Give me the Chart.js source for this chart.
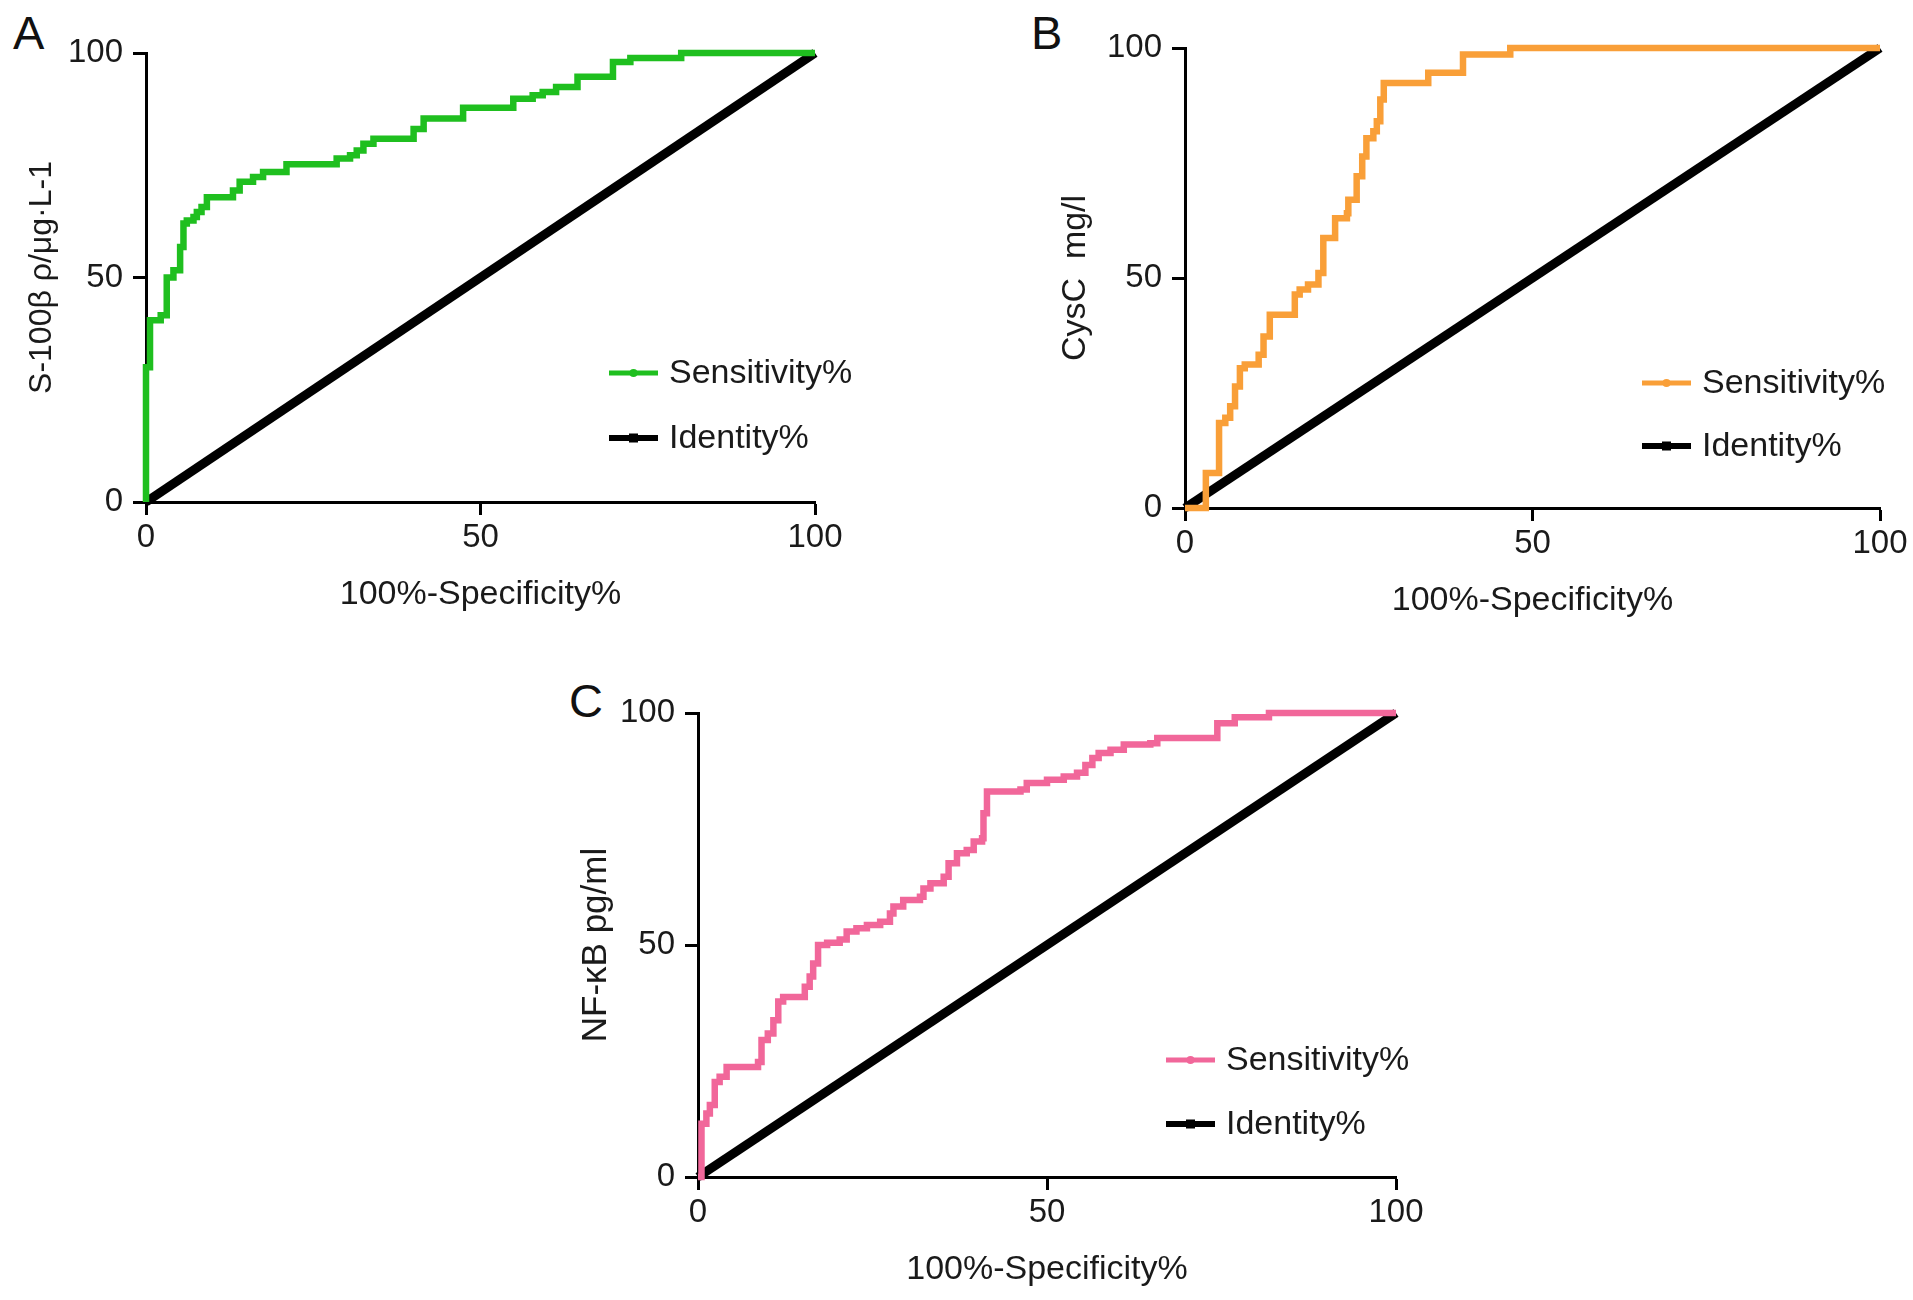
<!DOCTYPE html>
<html>
<head>
<meta charset="utf-8">
<script src="https://cdn.jsdelivr.net/npm/chart.js@4.4.0/dist/chart.umd.min.js"></script>
<style>
html,body{margin:0;padding:0;background:#fff;}
body{width:1913px;height:1300px;position:relative;overflow:hidden;}
.panel{position:absolute;}
.letter{position:absolute;font-family:"Liberation Sans",Arial,Helvetica,sans-serif;font-size:47px;line-height:1;color:#111;}
</style>
</head>
<body>
<div class="letter" style="left:13px;top:9px">A</div>
<div class="letter" style="left:1031px;top:9px">B</div>
<div class="letter" style="left:569px;top:677px">C</div>
<canvas id="cA" class="panel" style="left:0px;top:0px" width="900" height="660"></canvas>
<canvas id="cB" class="panel" style="left:1040px;top:0px" width="873" height="660"></canvas>
<canvas id="cC" class="panel" style="left:560px;top:660px" width="900" height="640"></canvas>
<script>
// ---------- data ----------
const axisTicks = [0, 50, 100];
const xTitle = "100%-Specificity%";
const seriesNames = ["Sensitivity%", "Identity%"];

// Identity (reference) line
const identityX = [0, 100];
const identityY = [0, 100];

// Panel A: S-100β
const aTitle = "S-100β ρ/μg·L-1";
const aFpr  = [0, 0, 0.6, 2.2, 3.1, 4.1, 5.1, 5.6, 6.1, 7.1, 7.6, 8.3, 9.1, 13, 14, 16, 17.5, 21, 28.5, 30.5, 31.5, 32.5, 34, 40, 41.5, 47.4, 54.9, 57.8, 59.3, 61.3, 64.5, 69.8, 72.4, 80, 100];
const aSens = [0, 30, 40.5, 41.6, 50, 51.6, 56.8, 62, 62.7, 63.5, 64.6, 65.7, 67.9, 69.4, 71.3, 72.4, 73.5, 75.2, 76.5, 77.2, 78.3, 79.8, 80.9, 83.1, 85.4, 87.8, 89.8, 90.6, 91.3, 92.4, 94.7, 98, 98.9, 100, 100];

// Panel B: CysC
const bTitle = "CysC  mg/l";
const bFpr  = [0, 3.0, 4.9, 5.8, 6.5, 7.2, 7.9, 8.6, 10.6, 11.3, 12.2, 15.8, 16.5, 17.7, 19.2, 19.9, 21.6, 23.3, 23.5, 24.7, 25.5, 26.1, 27.1, 27.6, 28.1, 28.6, 35, 40, 46.8, 100];
const bSens = [0, 7.6, 18.5, 19.6, 22.1, 26.4, 30.4, 31.2, 33.3, 37.3, 42, 46.4, 47.5, 48.6, 51.1, 58.7, 63, 64.1, 67, 72.1, 76.4, 80.4, 81.9, 84.1, 88.8, 92.4, 94.6, 98.6, 100, 100];

// Panel C: NF-κB
const cTitle = "NF-κB pg/ml";
const cFpr  = [0, 0.5, 1.2, 1.7, 2.4, 3.1, 4.1, 8.6, 9.1, 10, 10.8, 11.5, 12.2, 15.3, 16, 16.5, 17.2, 18.5, 20.3, 21.3, 22.7, 24.2, 26.1, 27.5, 28, 29.4, 31.8, 32.3, 33.3, 35.2, 35.9, 37.1, 38.5, 39.5, 40.7, 40.9, 41.4, 46.2, 47.1, 50, 52.4, 54.3, 55.5, 56.5, 57.4, 59.1, 61, 64.8, 65.8, 74.4, 76.9, 81.8, 100];
const cSens = [0, 11.5, 13.7, 15.5, 20.5, 21.6, 23.7, 24.8, 29.5, 30.9, 33.8, 37.8, 38.8, 41, 43.2, 46, 50, 50.5, 51.2, 52.9, 53.6, 54.3, 55, 56.8, 58.3, 59.7, 60.4, 62.2, 63.3, 64.7, 67.6, 69.8, 70.5, 72.3, 73, 78.4, 83.1, 83.5, 84.9, 85.6, 86.3, 87.1, 88.8, 90.3, 91.4, 92.1, 93.2, 93.5, 94.6, 97.8, 99.1, 100, 100];

// ---------- styling ----------
const FONT = '"Liberation Sans", Arial, Helvetica, sans-serif';
Chart.defaults.font.family = FONT;
Chart.defaults.color = '#1a1a1a';

const toPts = (xs, ys) => xs.map((x, i) => ({x: x, y: ys[i]}));

const rocLegend = {
  id: 'rocLegend',
  afterDraw(chart, args, opts) {
    const {ctx, chartArea} = chart;
    const x0 = chartArea.left + opts.x;
    chart.data.datasets.forEach((ds, i) => {
      const y = chartArea.bottom - opts.ys[i];
      ctx.save();
      ctx.strokeStyle = ds.borderColor;
      ctx.lineWidth = opts.lw[i];
      ctx.beginPath();
      ctx.moveTo(x0, y);
      ctx.lineTo(x0 + opts.len, y);
      ctx.stroke();
      ctx.fillStyle = ds.borderColor;
      const cx = x0 + opts.len / 2;
      if (ds.pointStyle === 'rect') {
        ctx.fillRect(cx - 4.5, y - 4.5, 9, 9);
      } else {
        ctx.beginPath();
        ctx.arc(cx, y, 4, 0, Math.PI * 2);
        ctx.fill();
      }
      ctx.fillStyle = '#1a1a1a';
      ctx.font = '34px ' + FONT;
      ctx.textAlign = 'left';
      ctx.textBaseline = 'middle';
      ctx.fillText(ds.label, x0 + opts.text, y + 1);
      ctx.restore();
    });
  }
};

function makeChart(id, cfg) {
  const ctx = document.getElementById(id);
  return new Chart(ctx, {
    type: 'line',
    data: {
      datasets: [
        {
          label: seriesNames[0],
          data: toPts(cfg.xs, cfg.ys),
          borderColor: cfg.color,
          backgroundColor: cfg.color,
          borderWidth: 6.5,
          pointRadius: 0,
          pointStyle: 'circle',
          stepped: 'before',
          fill: false,
          clip: false
        },
        {
          label: seriesNames[1],
          data: toPts(identityX, identityY),
          borderColor: '#000000',
          backgroundColor: '#000000',
          borderWidth: 9,
          pointRadius: 0,
          pointStyle: 'rect',
          fill: false,
          clip: false
        }
      ]
    },
    options: {
      responsive: false,
      animation: false,
      devicePixelRatio: 1,
      layout: {padding: {left: 0, top: cfg.padTop, right: cfg.padRight, bottom: 0}},
      plugins: {
        legend: {display: false},
        tooltip: {enabled: false},
        rocLegend: {x: cfg.legX, ys: cfg.legYs, len: 49, text: 60, lw: [5, 6]}
      },
      scales: {
        x: {
          type: 'linear',
          min: 0, max: 100,
          afterBuildTicks: s => { s.ticks = axisTicks.map(v => ({value: v})); },
          afterFit: s => { s.height = cfg.xH; },
          ticks: {font: {size: 33}, padding: 3, color: '#1a1a1a', maxRotation: 0},
          grid: {drawOnChartArea: false, drawTicks: true, tickLength: 13, tickWidth: 3, tickColor: '#000'},
          border: {display: true, color: '#000', width: 3},
          title: {display: true, text: xTitle, font: {size: 34}, color: '#1a1a1a',
                  padding: {top: 0, bottom: cfg.xTitlePad}}
        },
        y: {
          type: 'linear',
          min: 0, max: 100,
          afterBuildTicks: s => { s.ticks = axisTicks.map(v => ({value: v})); },
          afterFit: s => { s.width = cfg.yW; },
          ticks: {font: {size: 33}, padding: 10, color: '#1a1a1a'},
          grid: {drawOnChartArea: false, drawTicks: true, tickLength: 13, tickWidth: 3, tickColor: '#000'},
          border: {display: true, color: '#000', width: 3},
          title: {display: true, text: cfg.yTitle, font: {size: cfg.yTitleSize}, color: '#1a1a1a',
                  padding: {top: cfg.yTitlePad, bottom: 0}}
        }
      }
    },
    plugins: [rocLegend]
  });
}

makeChart('cA', {xs: aFpr, ys: aSens, color: '#1fbf1f', yTitle: aTitle, yTitleSize: 32,
  yW: 146, padTop: 53, padRight: 85, xH: 158, xTitlePad: 44.6, yTitlePad: 22.8,
  legX: 463, legYs: [129, 64]});
makeChart('cB', {xs: bFpr, ys: bSens, color: '#f99f38', yTitle: bTitle, yTitleSize: 34,
  yW: 145, padTop: 48, padRight: 33, xH: 152, xTitlePad: 38.6, yTitlePad: 15.6,
  legX: 457, legYs: [125, 62]});
makeChart('cC', {xs: cFpr, ys: cSens, color: '#f1679a', yTitle: cTitle, yTitleSize: 35,
  yW: 138, padTop: 53, padRight: 64, xH: 123, xTitlePad: 9.6, yTitlePad: 15,
  legX: 468, legYs: [117, 53]});
</script>
</body>
</html>
